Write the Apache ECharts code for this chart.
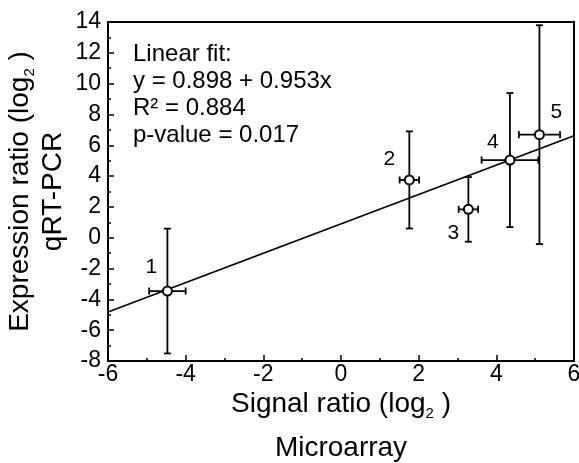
<!DOCTYPE html>
<html>
<head>
<meta charset="utf-8">
<script src="https://cdn.jsdelivr.net/npm/echarts@6/dist/echarts.min.js"></script>
<style>html,body{margin:0;padding:0;background:#fff}#c{width:579px;height:463px}</style>
</head>
<body>
<div id="c"></div>
<script>
var pointLabels = ['1', '2', '3', '4', '5'];
var signalRatio = [-4.47, 1.76, 3.28, 4.35, 5.11];
var expressionRatio = [-3.46, 3.75, 1.84, 5.04, 6.69];
var signalErr = [0.47, 0.25, 0.25, 0.73, 0.53];
var expressionErr = [4.05, 3.15, 2.1, 4.35, 7.1];
var fitIntercept = 0.898;
var fitSlope = 0.953;
var fitRange = [-6, 6];
var annotationLines = ['Linear fit:', 'y = 0.898 + 0.953x', 'R\u00b2 = 0.884', 'p-value = 0.017'];
var labelOffsets = [[-16, -24], [-20, -21], [-15, 24], [-17, -18], [17, -22]];

var FONT = '"Liberation Sans", Arial, Helvetica, sans-serif';
var chart = echarts.init(document.getElementById('c'));

var errData = signalRatio.map(function (x, i) { return [x, expressionRatio[i], signalErr[i], expressionErr[i]]; });
var ptData = signalRatio.map(function (x, i) {
  return {
    value: [x, expressionRatio[i]],
    label: { show: true, formatter: pointLabels[i], position: 'inside', offset: labelOffsets[i],
      fontFamily: FONT, fontSize: 21, color: '#000' }
  };
});
var fitData = fitRange.map(function (x) { return [x, fitIntercept + fitSlope * x]; });

function titleRich(lh) {
  return {
    a: { fontFamily: FONT, fontSize: 28, color: '#000', lineHeight: lh },
    s: { fontFamily: FONT, fontSize: 15, color: '#000', lineHeight: lh, padding: [19, 0, 0, 0] }
  };
}

chart.setOption({
  animation: false,
  backgroundColor: '#fff',
  grid: { left: 108, top: 22, width: 466, height: 339, containLabel: false, outerBoundsMode: 'none',
    show: true, borderColor: '#000', borderWidth: 2, backgroundColor: 'transparent' },
  xAxis: {
    type: 'value', min: -6, max: 6, interval: 2,
    axisLine: { show: true, onZero: false, lineStyle: { color: '#000', width: 2 } },
    axisTick: { show: true, inside: true, length: 6, lineStyle: { color: '#000', width: 1.5 } },
    minorTick: { show: true, splitNumber: 2, length: 3, lineStyle: { color: '#000', width: 1.5 } },
    splitLine: { show: false },
    axisLabel: { fontFamily: FONT, fontSize: 23, color: '#000', margin: 2 },
    name: '{a|Signal ratio (log}{s|2}{a| )}\n{a|Microarray}',
    nameLocation: 'middle', nameGap: 21, nameMoveOverlap: false,
    nameTextStyle: { rich: titleRich(44) }
  },
  yAxis: {
    type: 'value', min: -8, max: 14, interval: 2,
    axisLine: { show: true, onZero: false, lineStyle: { color: '#000', width: 2 } },
    axisTick: { show: true, inside: true, length: 6, lineStyle: { color: '#000', width: 1.5 } },
    minorTick: { show: true, splitNumber: 2, length: 3, lineStyle: { color: '#000', width: 1.5 } },
    splitLine: { show: false },
    axisLabel: { fontFamily: FONT, fontSize: 23, color: '#000', margin: 7 },
    name: '{a|Expression ratio (log}{s|2}{a| )}\n{a|qRT-PCR}',
    nameLocation: 'middle', nameGap: 38, nameRotate: 90, nameMoveOverlap: false,
    nameTextStyle: { rich: titleRich(33) }
  },
  graphic: [{
    type: 'text', left: 133, top: 41, z: 100,
    style: { text: annotationLines.join('\n'), font: '24px ' + FONT, fill: '#000', lineHeight: 27 }
  }],
  series: [
    {
      type: 'line', data: fitData, symbol: 'none', z: 2,
      lineStyle: { color: '#000', width: 1.8 }, silent: true
    },
    {
      type: 'custom', data: errData, z: 3, silent: true,
      renderItem: function (params, api) {
        var x = api.value(0), y = api.value(1), ex = api.value(2), ey = api.value(3);
        var t = api.coord([x, y + ey]), b = api.coord([x, y - ey]);
        var l = api.coord([x - ex, y]), r = api.coord([x + ex, y]);
        var cap = 3.5, st = { stroke: '#000', lineWidth: 1.8 };
        return { type: 'group', children: [
          { type: 'line', shape: { x1: t[0], y1: t[1], x2: b[0], y2: b[1] }, style: st },
          { type: 'line', shape: { x1: t[0] - cap, y1: t[1], x2: t[0] + cap, y2: t[1] }, style: st },
          { type: 'line', shape: { x1: b[0] - cap, y1: b[1], x2: b[0] + cap, y2: b[1] }, style: st },
          { type: 'line', shape: { x1: l[0], y1: l[1], x2: r[0], y2: r[1] }, style: st },
          { type: 'line', shape: { x1: l[0], y1: l[1] - cap, x2: l[0], y2: l[1] + cap }, style: st },
          { type: 'line', shape: { x1: r[0], y1: r[1] - cap, x2: r[0], y2: r[1] + cap }, style: st }
        ] };
      }
    },
    {
      type: 'scatter', data: ptData, z: 5, symbol: 'circle', symbolSize: 9,
      itemStyle: { color: '#fff', borderColor: '#000', borderWidth: 2, opacity: 1 }
    }
  ]
});
</script>
</body>
</html>
